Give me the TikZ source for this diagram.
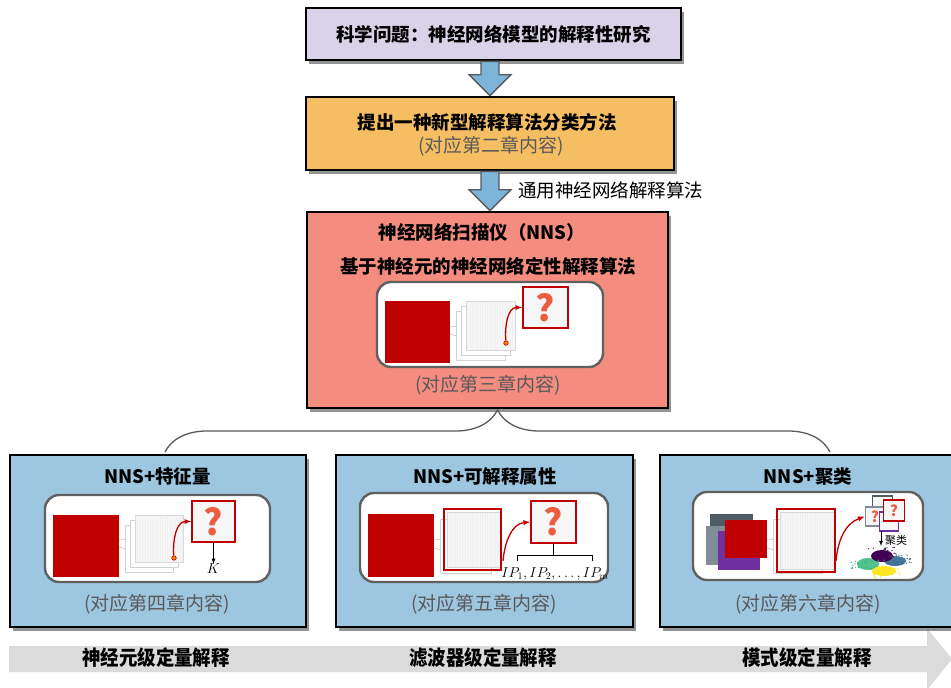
\documentclass[tikz,border=0pt]{standalone}
\usepackage{fontspec}
\setmainfont{Noto Sans CJK SC}
\usetikzlibrary{positioning,shadows,calc,arrows,decorations.pathreplacing}

\definecolor{boxpurple}{RGB}{218,211,231}
\definecolor{boxorange}{RGB}{246,190,98}
\definecolor{boxsalmon}{RGB}{245,140,128}
\definecolor{boxblue}{RGB}{157,198,225}
\definecolor{arrowblue}{RGB}{125,180,218}
\definecolor{darkred}{RGB}{192,0,0}
\definecolor{qorange}{RGB}{236,92,62}
\definecolor{notegray}{RGB}{89,89,89}
\definecolor{slate}{RGB}{80,92,100}
\definecolor{slatelight}{RGB}{128,141,150}
\definecolor{violet}{RGB}{112,48,160}
\definecolor{vpurple}{RGB}{68,1,84}
\definecolor{vteal}{RGB}{49,104,142}
\definecolor{vgreen}{RGB}{53,183,121}
\definecolor{vyellow}{RGB}{253,231,37}

\tikzset{
	mainbox/.style={draw=black, line width=2.6pt, inner sep=0pt,
		drop shadow={shadow xshift=3pt, shadow yshift=-4pt, opacity=.7, fill=black!60}},
	innerbox/.style={draw=gray!75!black, fill=white, line width=2.4pt,
		rounded corners=14pt, inner sep=0pt},
	qbox/.style={draw=darkred, fill=gray!7, line width=1.6pt, inner sep=0pt,
		text=qorange, font=\fontsize{36}{36}\selectfont\bfseries},
	sqbox/.style={qbox, font=\fontsize{15}{15}\selectfont\bfseries},
	sheet/.style={draw=gray!35, fill=white, line width=.6pt},
	title/.style={font=\fontsize{18.5}{22}\selectfont\bfseries},
	hint/.style={text=notegray, font=\fontsize{19}{22}\selectfont},
	level/.style={font=\fontsize{20.5}{24}\selectfont\bfseries},
	redarrow/.style={draw=darkred, line width=1.3pt, -latex},
	barrow/.style={draw=gray!70!black, fill=arrowblue, line width=1.4pt},
}

% one feature map with its fine grid
\newcommand\fmap[4]{
	\fill[gray!7] (#1,#2) rectangle (#3,#4);
	\draw[gray!12, line width=.2pt, step=2.5] (#1,#2) grid (#3,#4);
	\draw[gray!30, line width=.6pt] (#1,#2) rectangle (#3,#4);
}

\begin{document}
\begin{tikzpicture}[x=1pt, y=-1pt,
		font=\fontsize{18.5}{22}\selectfont,
		every node/.style={inner sep=0pt}]
	\useasboundingbox (0,0) rectangle (951,688);

	% levels along the bottom
	\fill[gray!28] (9,646) -- (927,646) -- (927,628) -- (952,659) -- (927,690)
		-- (927,672) -- (9,672) -- cycle;
	\node[level] (L1) at (156,658) {\scalebox{.9}[1]{神经元级定量解释}};
	\node[level] (L2) at (483,658) {\scalebox{.9}[1]{滤波器级定量解释}};
	\node[level] (L3) at (807,658) {\scalebox{.9}[1]{模式级定量解释}};

	% main column
	\node[mainbox, fill=boxpurple, minimum width=375, minimum height=52, title]
		(A) at (493.5,34) {科学问题：神经网络模型的解释性研究};

	\node[mainbox, fill=boxorange, minimum width=368, minimum height=73] (B) at (490,133.5) {};
	\node[title] (B1) at (487,122) {提出一种新型解释算法分类方法};
	\node[hint] (B2) at (491,146) {(对应第二章内容)};

	\node[mainbox, fill=boxsalmon, minimum width=361, minimum height=196] (C) at (487.5,310) {};
	\node[title] (C1) at (482,232) {神经网络扫描仪（NNS）};
	\node[title] (C2) at (488,266) {基于神经元的神经网络定性解释算法};
	\node[hint] (C3) at (488,385) {(对应第三章内容)};

	\coordinate (p1) at (B.north |- A.south);
	\coordinate (q1) at (B.north);
	\draw[barrow] ($(p1)+(-9,0)$) -- ($(q1)+(-9,-21)$) -- ($(q1)+(-21,-21)$) -- (q1)
		-- ($(q1)+(21,-21)$) -- ($(q1)+(9,-21)$) -- ($(p1)+(9,0)$) -- cycle;
	\coordinate (p2) at (B.south);
	\coordinate (q2) at (B.south |- C.north);
	\draw[barrow] ($(p2)+(-9,0)$) -- ($(q2)+(-9,-21)$) -- ($(q2)+(-21,-21)$) -- (q2)
		-- ($(q2)+(21,-21)$) -- ($(q2)+(9,-21)$) -- ($(p2)+(9,0)$) -- cycle;
	\node[anchor=west] (G) at (518,190) {通用神经网络解释算法};

	% scanner sketch
	\node[innerbox, minimum width=226, minimum height=85] (I3) at (490,324.5) {};
	\fill[darkred] (385,301) rectangle (450,363);
	\draw[gray!50, line width=.6pt] (450,327) -- (462,326) (450,334) -- (457,336);
	\foreach \d in {10,5}
		\draw[sheet] ({466-\d},{301+\d}) rectangle ({515-\d},{350+\d});
	\fmap{466}{301}{515}{350}
	\node[qbox, minimum width=45, minimum height=41] (Q3) at (545.5,307.5) {?};
	\node[circle, fill=orange, draw=darkred, line width=.6pt, minimum size=4.5] (N3) at (506,343) {};
	\draw[redarrow] (N3) to[out=95, in=180] (Q3.west);

	% grouping brace
	\draw[gray!70!black, line width=1.3pt, decorate, decoration={brace, amplitude=42}]
		(165,452) -- (830,452);

	% three extensions
	\node[mainbox, fill=boxblue, minimum width=296, minimum height=172] (D) at (158,541) {};
	\node[mainbox, fill=boxblue, minimum width=297, minimum height=172] (E) at (484.5,541) {};
	\node[mainbox, fill=boxblue, minimum width=300, minimum height=172] (F) at (810,541) {};
	\node[title] (D1) at (157.5,476) {NNS+特征量};
	\node[title] (E1) at (485,476) {NNS+可解释属性};
	\node[title] (F1) at (808,476) {NNS+聚类};
	\node[hint] (D2) at (157,604) {(对应第四章内容)};
	\node[hint] (E2) at (484,604) {(对应第五章内容)};
	\node[hint] (F2) at (808,604) {(对应第六章内容)};

	% feature quantity
	\node[innerbox, minimum width=225, minimum height=87] (I4) at (157.5,538.5) {};
	\fill[darkred] (53,515) rectangle (119,577);
	\draw[gray!50, line width=.6pt] (119,540) -- (131,539) (119,547) -- (127,549);
	\foreach \d in {10,5}
		\draw[sheet] ({135-\d},{515+\d}) rectangle ({183-\d},{562+\d});
	\fmap{135}{515}{183}{562}
	\node[qbox, minimum width=43, minimum height=41] (Q4) at (213.5,521.5) {?};
	\node[circle, fill=orange, draw=darkred, line width=.6pt, minimum size=4.5] (N4) at (174,558) {};
	\draw[redarrow] (N4) to[out=95, in=180] (Q4.west);
	\node[font=\fontsize{14}{16}\selectfont] (K) at (213.5,569) {$K$};
	\draw[line width=.8pt, -latex] (Q4.south) -- (K.north);

	% interpretable attributes
	\node[innerbox, minimum width=248, minimum height=89] (I5) at (484,537.5) {};
	\fill[darkred] (368,514) rectangle (434,577);
	\draw[gray!50, line width=.6pt] (434,540) -- (446,539) (434,548) -- (442,550);
	\draw[sheet] (440,519) rectangle (491,573);
	\fmap{447}{512}{500}{567}
	\draw[darkred, line width=1.6pt] (444,509) rectangle (501,570);
	\node[qbox, minimum width=45, minimum height=42] (Q5) at (553.5,522) {?};
	\coordinate (N5) at (503,561);
	\draw[redarrow] (N5) to[out=85, in=185] (Q5.west);
	\draw[line width=.8pt] (517,561) -- (517,555) -- (592,555) -- (592,561)
		(Q5.south |- 0,555) -- (Q5.south);
	\node[font=\fontsize{14}{16}\selectfont] (IP) at (555,574) {$IP_1,IP_2,\ldots,IP_m$};

	% clustering
	\node[innerbox, minimum width=230, minimum height=88] (I6) at (808,536) {};
	\fill[slate] (710,514) rectangle (753,552);
	\fill[slatelight] (706,526) rectangle (745,565);
	\fill[violet] (718,531) rectangle (760,570);
	\fill[darkred] (725,520) rectangle (767,558);
	\draw[gray!50, line width=.6pt] (767,540) -- (779,539) (767,548) -- (775,550);
	\draw[sheet] (773,519) rectangle (822,573);
	\fmap{780}{512}{834}{569}
	\draw[darkred, line width=1.6pt] (777,509) rectangle (835,572);
	\node[sqbox, draw=slate, minimum size=20] (Q6a) at (882.5,506) {};
	\node[sqbox, draw=slatelight, minimum size=19] (Q6b) at (875,516.5) {?};
	\node[sqbox, draw=violet, minimum size=19] (Q6c) at (889,521.5) {};
	\node[sqbox, minimum size=21] (Q6) at (894,510.5) {?};
	\coordinate (N6) at (836,561);
	\draw[redarrow] (N6) to[out=85, in=200] (Q6b.west);
	\coordinate (S6) at (881,546);
	\draw[line width=.8pt, -latex] (881,531) -- (S6);
	\node[anchor=west, font=\fontsize{11}{12}\selectfont] (J) at (885,540) {聚类};
	% scatter of the clusters
	\fill[vgreen!85] (868,564) ellipse (11 and 6);
	\fill[vteal!90] (895,561) ellipse (11 and 5);
	\fill[vyellow] (884,571) ellipse (12 and 5);
	\fill[vpurple] (882,556) ellipse (11 and 6);
	\pgfmathsetseed{11}
	\foreach \c/\x/\y in {vpurple/882/552, vteal/898/560, vgreen/865/565, vyellow/886/573}
		\foreach \i in {1,...,30}
			\fill[\c] ($(\x,\y)+(rand*14,rand*5)$) circle (.7);
\end{tikzpicture}
\end{document}
